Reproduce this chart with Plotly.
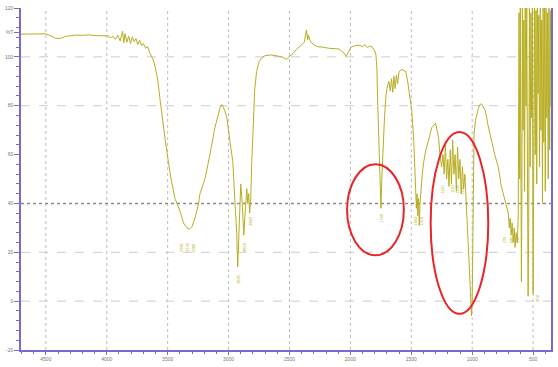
import plotly.graph_objects as go

# Spectrum (wavenumber cm-1, %T)
wavenumber = [
    4704, 4600, 4500, 4460, 4420, 4380, 4340, 4300, 4250, 4200, 4150, 4100, 4050, 4000,
    3990, 3970, 3950, 3930, 3910, 3890, 3870, 3860, 3850, 3835, 3820, 3805, 3790, 3775,
    3760, 3745, 3730, 3715, 3700, 3680, 3665, 3650, 3640, 3620, 3600, 3580, 3561, 3540,
    3520, 3500, 3472, 3440, 3398, 3370, 3340, 3320, 3300, 3276, 3250, 3235, 3194, 3153,
    3112, 3071, 3055, 3031, 3014, 2990, 2965, 2949, 2933, 2925, 2912, 2900, 2888, 2875,
    2862, 2850, 2843, 2835, 2827, 2818, 2810, 2800, 2786, 2770, 2750, 2729, 2700, 2650,
    2600, 2560, 2525, 2500, 2470, 2443, 2410, 2378, 2361, 2350, 2345, 2325, 2300, 2271,
    2231, 2174, 2092, 2051, 2035, 2010, 1994, 1960, 1929, 1900, 1880, 1860, 1840, 1822,
    1800, 1790, 1782, 1775, 1765, 1755, 1749, 1742, 1735, 1720, 1708, 1700, 1684, 1672,
    1662, 1652, 1642, 1632, 1622, 1612, 1602, 1590, 1578, 1561, 1545, 1530, 1520, 1505,
    1496, 1480, 1470, 1463, 1458, 1452, 1446, 1440, 1434, 1428, 1422, 1410, 1398, 1380,
    1357, 1333, 1300, 1290, 1276, 1265, 1251, 1240, 1230, 1220, 1210, 1200, 1190, 1180,
    1170, 1160, 1150, 1140, 1130, 1120, 1110, 1100, 1090, 1080, 1070, 1060, 1050, 1040,
    1030, 1020, 1010, 1006, 1000, 995, 990, 985, 973, 960, 949, 935, 924, 910, 892, 870,
    843, 815, 786, 761, 745, 729, 712, 704, 695, 688, 680, 672, 663, 655, 648, 639, 630,
    622, 615, 610, 605, 600, 596, 592, 588, 582, 576, 570, 565, 558, 552, 546, 541, 536,
    530, 524, 518, 512, 506, 500, 494, 488, 482, 476, 470, 465, 459, 453, 447, 441, 435,
    429, 423, 418, 412, 406, 400, 394, 388, 382, 376, 370, 364, 358, 352, 346,
]
transmittance = [
    109.3, 109.3, 109.4, 108.6, 107.6, 107.5, 108.4, 108.6, 108.9, 108.8, 109.0, 108.7, 108.6, 108.4,
    108.6, 107.8, 108.5, 107.2, 108.9, 106.5, 110.5, 105.8, 109.5, 106.0, 108.5, 105.5, 108.2, 106.2,
    107.5, 105.0, 106.8, 104.5, 105.5, 103.5, 104.2, 102.0, 101.0, 99.0, 95.5, 90.0, 82.0, 73.0,
    66.0, 59.0, 50.0, 42.0, 36.8, 32.0, 30.0, 29.5, 30.5, 34.0, 39.0, 44.0, 50.0, 60.0,
    71.0, 79.0, 80.5, 78.0, 75.0, 66.0, 57.0, 42.0, 28.0, 14.0, 32.0, 48.0, 40.0, 27.0,
    38.0, 46.0, 40.0, 44.0, 36.0, 42.0, 56.0, 72.0, 86.0, 94.0, 98.0, 99.5, 100.5, 100.8,
    100.5, 100.0, 99.0, 100.0, 101.5, 103.0, 104.5, 106.0, 111.0, 107.0, 109.0, 106.0, 105.0, 104.2,
    104.0, 103.5, 103.2, 101.5, 100.2, 102.5, 104.0, 104.6, 104.8, 104.2, 105.0, 103.8, 104.5, 104.0,
    102.5, 100.8, 95.0, 80.0, 62.0, 50.0, 38.0, 50.0, 60.0, 75.0, 84.0, 87.0, 90.0, 86.0,
    91.0, 85.5, 92.0, 87.0, 92.5, 89.0, 93.5, 94.5, 94.8, 94.5, 94.0, 90.0, 87.0, 82.0,
    78.0, 66.0, 55.0, 45.0, 38.0, 44.0, 35.0, 42.0, 31.0, 40.0, 46.0, 52.0, 57.0, 62.0,
    66.0, 71.0, 72.8, 70.0, 67.0, 60.0, 55.0, 60.0, 52.0, 64.0, 50.0, 58.0, 47.0, 62.0,
    48.0, 66.0, 52.0, 60.0, 45.0, 63.0, 50.0, 58.0, 44.0, 55.0, 46.0, 52.0, 42.0, 36.0,
    25.0, 10.0, -2.0, -6.0, 0.0, 30.0, 55.0, 68.0, 74.0, 77.0, 79.0, 80.5, 80.8, 79.5, 78.0, 72.0,
    66.0, 60.0, 55.0, 47.0, 44.0, 41.0, 37.0, 36.0, 30.0, 34.0, 27.0, 32.0, 24.0, 30.0, 22.0, 28.0, 24.0,
    35.0, 118.0, 50.0, 121.0, 60.0, 8.0, 40.0, 122.0, 70.0, 115.0, 45.0, 122.0, 80.0, 120.0, 50.0, 2.0,
    30.0, 121.0, 55.0, 118.0, 75.0, 122.0, 3.0, 45.0, 121.0, 60.0, 119.0, 48.0, 122.0, 85.0, 117.0, 55.0,
    122.0, 70.0, 115.0, 40.0, 121.0, 65.0, 120.0, 45.0, 122.0, 75.0, 118.0, 50.0, 122.0, 62.0, 119.0,
    80.0, 121.0,
]

# Peak labels (tiny rotated text)
peak_wn = [3385, 3336, 3289, 2925, 2869, 2823, 1749, 1462, 1418, 1241, 1163, 1120, 1080, 735, 680, 630, 459]
peak_t = [22, 22, 22, 9, 22, 33, 34, 33, 33, 46, 46, 46, 46, 25, 25, 25, 1]

x_ticks = [4500, 4000, 3500, 3000, 2500, 2000, 1500, 1000, 500]
y_ticks = [120, 110, 100, 80, 60, 40, 20, 0, -20]
y_ticktext = ["120", "%T", "100", "80", "60", "40", "20", "0", "-20"]
h_grid = [100, 80, 20, 0]
baseline = 40

# red ellipses (wavenumber / %T bounds)
ellipses = [(2027, 1561, 56, 18.8), (1341, 868, 69.2, -5.2)]

x_range = [4704, 353]
y_range = [-20, 120]

line_col = "#b8ae22"
axis_col = "#7a6ad0"

fig = go.Figure()
fig.add_trace(go.Scatter(x=wavenumber, y=transmittance, mode="lines",
                         line=dict(color=line_col, width=1), hoverinfo="skip"))

for wn, t in zip(peak_wn, peak_t):
    fig.add_annotation(x=wn, y=t, xref="x", yref="y", text=str(wn), showarrow=False,
                       textangle=-90, font=dict(size=4, color=line_col,
                                                family="Liberation Sans"))

for xv in x_ticks:
    fig.add_shape(type="line", x0=xv, x1=xv, y0=y_range[0], y1=y_range[1], xref="x", yref="y",
                  line=dict(color="#bdbdbd", width=1, dash="dot"), layer="below")
for yv in h_grid:
    fig.add_shape(type="line", x0=x_range[0], x1=x_range[1], y0=yv, y1=yv, xref="x", yref="y",
                  line=dict(color="#cccccc", width=1, dash="dash"), layer="below")
fig.add_shape(type="line", x0=x_range[0], x1=x_range[1], y0=baseline, y1=baseline, xref="x", yref="y",
              line=dict(color="#8a8a8a", width=1.5, dash="dot"), layer="below")
for (xa, xb, ya, yb) in ellipses:
    fig.add_shape(type="circle", x0=xa, x1=xb, y0=ya, y1=yb, xref="x", yref="y",
                  line=dict(color="#e8262a", width=2))

fig.update_layout(
    width=558, height=367, margin=dict(l=20, r=5, t=5, b=12),
    paper_bgcolor="white", plot_bgcolor="white", showlegend=False,
    font=dict(family="Liberation Sans", size=5, color="#777777"),
)
fig.update_xaxes(range=x_range, tickvals=x_ticks, showgrid=False, zeroline=False,
                 showline=True, linecolor=axis_col, linewidth=1.5,
                 ticks="outside", ticklen=3, tickcolor=axis_col,
                 minor=dict(dtick=100, ticks="outside", ticklen=2, tickcolor=axis_col),
                 tickfont=dict(size=5, color="#777777"))
fig.update_yaxes(range=y_range, tickvals=y_ticks, ticktext=y_ticktext, showgrid=False, zeroline=False,
                 showline=True, linecolor=axis_col, linewidth=1.5, mirror=True,
                 ticks="outside", ticklen=5, tickcolor=axis_col,
                 minor=dict(dtick=4, ticks="outside", ticklen=3, tickcolor=axis_col),
                 tickfont=dict(size=5, color="#777777"))

fig.write_html("out.html")
